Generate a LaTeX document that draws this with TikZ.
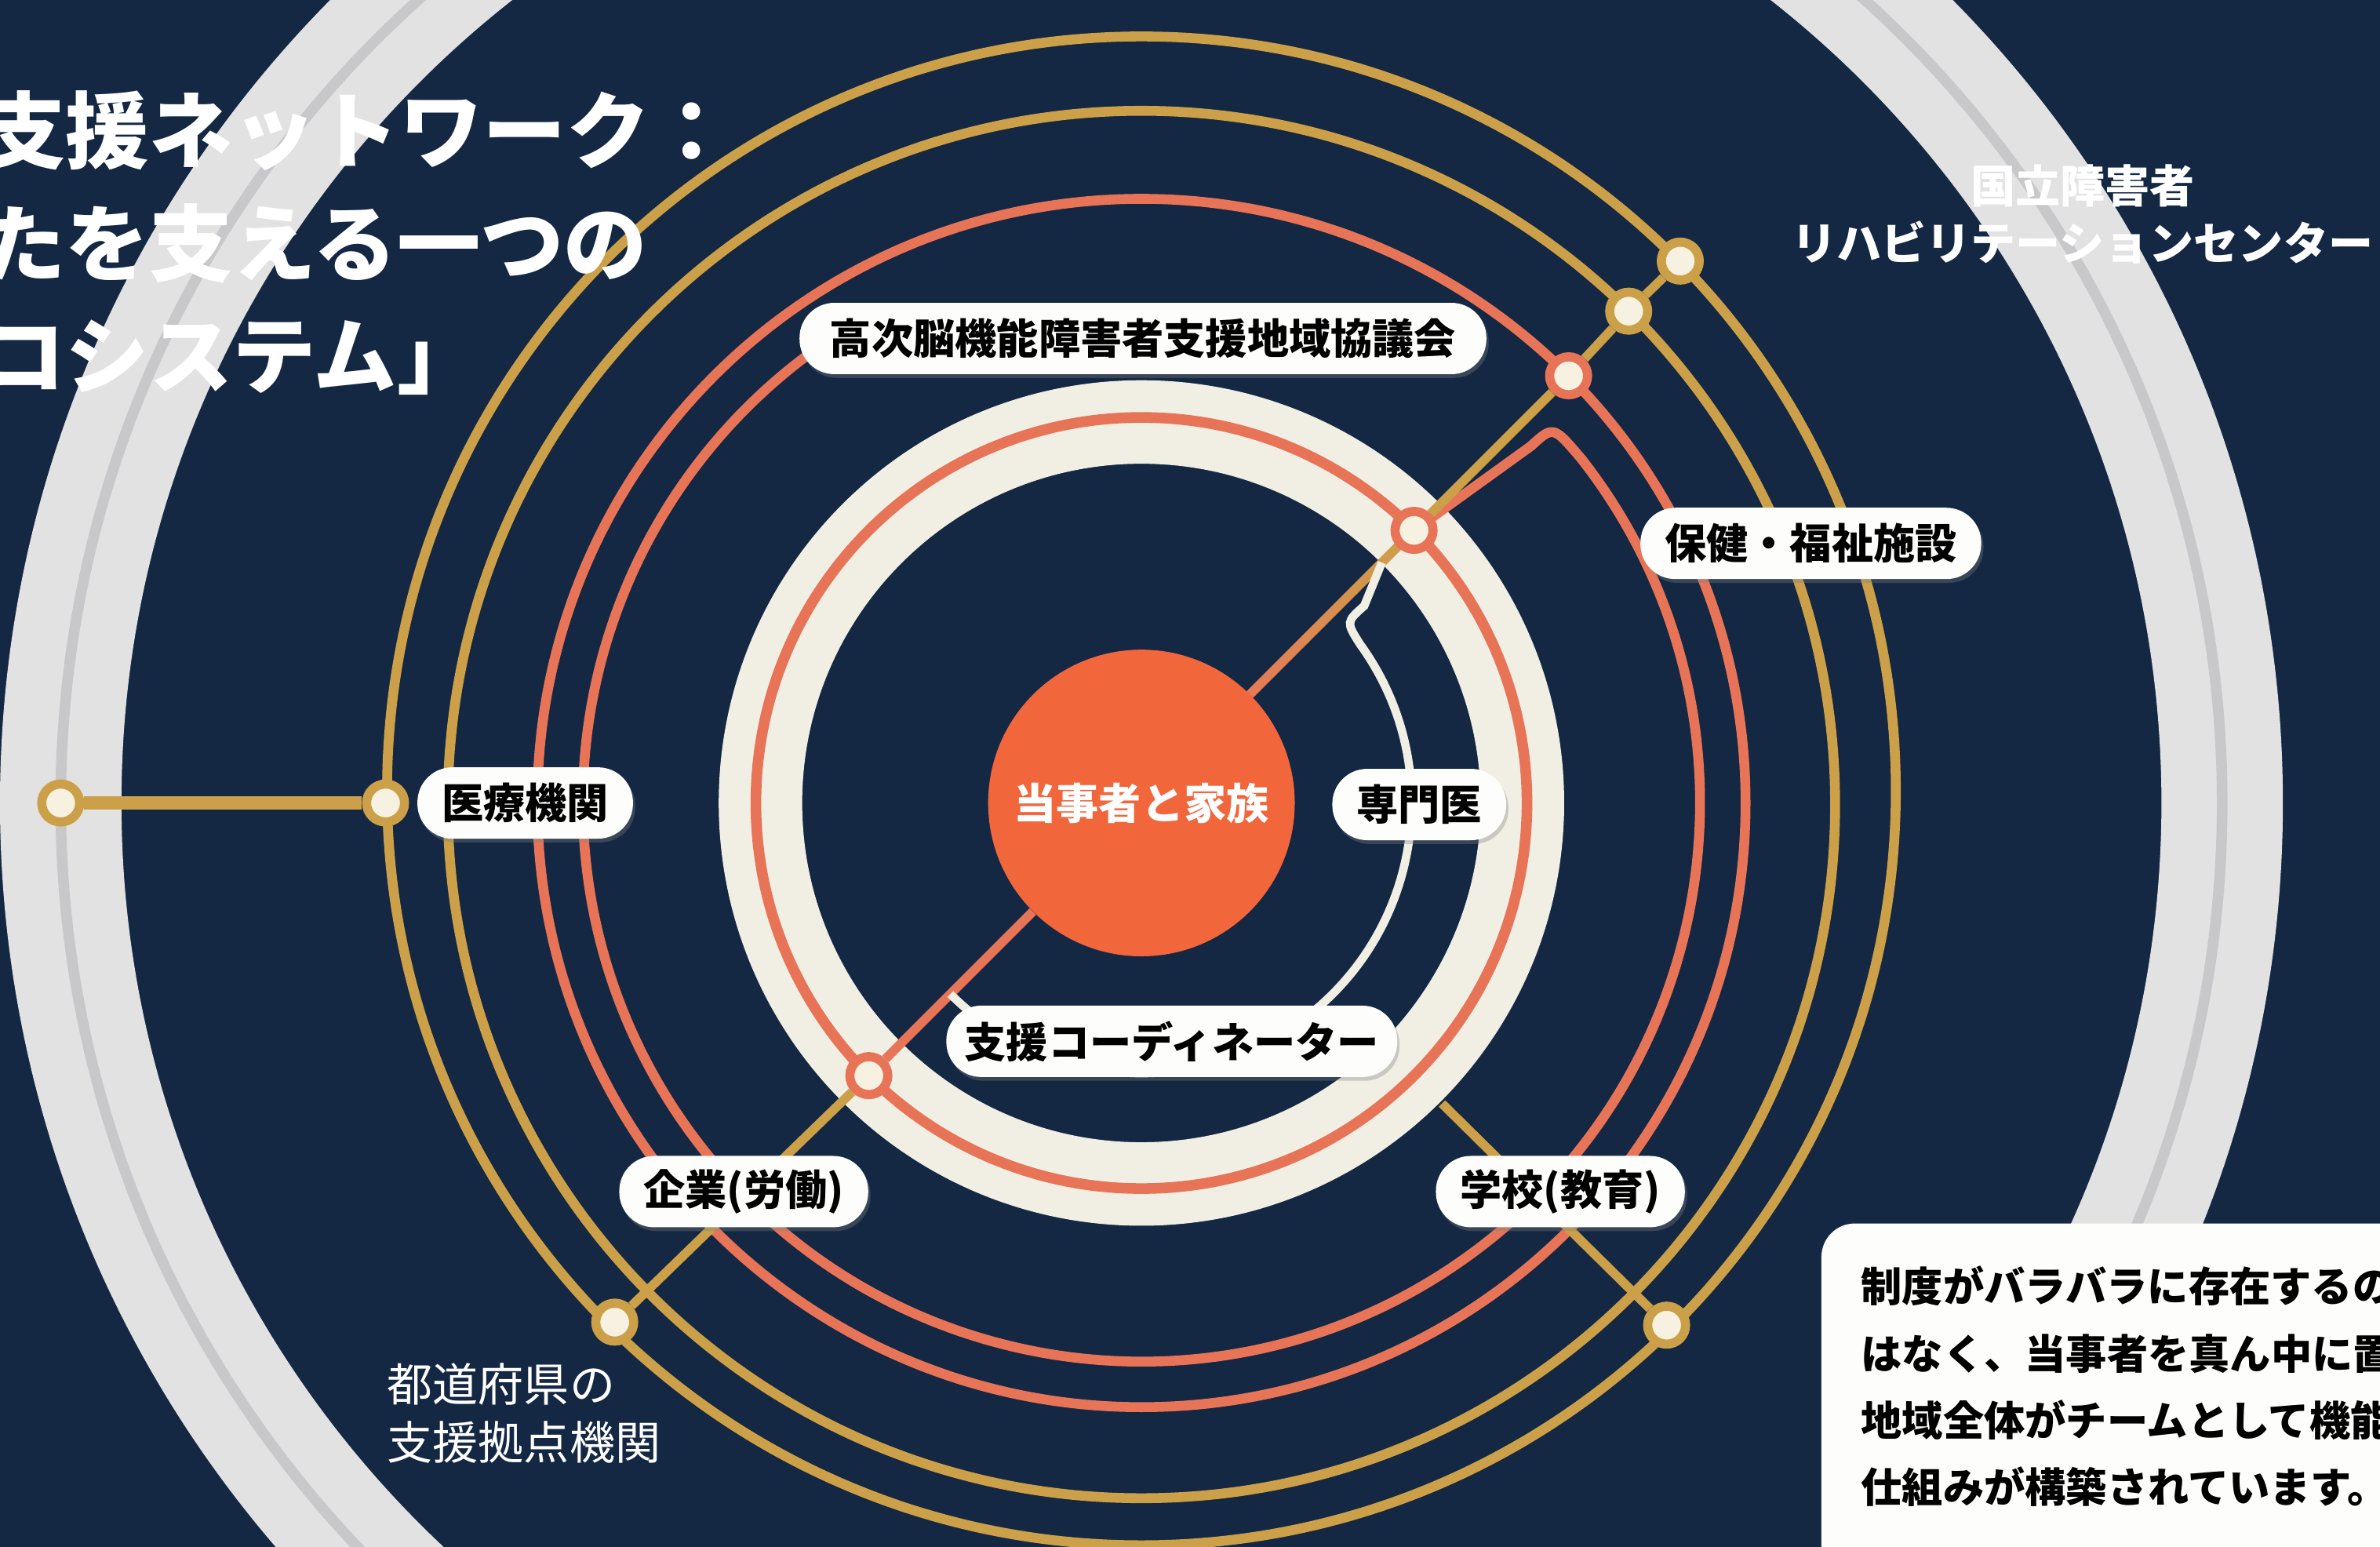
\documentclass[tikz,border=0pt]{standalone}
\usepackage{fontspec}
\newfontfamily\jp{Noto Sans CJK JP}
\usetikzlibrary{calc,shadows}
\definecolor{navy}{RGB}{20,40,68}
\definecolor{goldc}{RGB}{203,160,72}
\definecolor{salmon}{RGB}{232,116,88}
\definecolor{diskc}{RGB}{242,102,60}
\definecolor{creamc}{RGB}{241,239,228}
\definecolor{stnfill}{RGB}{246,241,224}
\definecolor{bandc}{RGB}{226,226,226}
\definecolor{bandmid}{RGB}{200,200,202}
\definecolor{pillc}{RGB}{253,253,251}
\pgfdeclarelayer{back}
\pgfdeclarelayer{mid}
\pgfsetlayers{back,mid,main}
\tikzset{
 goldring/.style={draw=goldc, line width=6.5},
 orring/.style={draw=salmon, line width=6.5},
 stnG/.style={circle, draw=goldc, fill=stnfill, line width=6, minimum size=25, inner sep=0},
 stnO/.style={circle, draw=salmon, fill=stnfill, line width=6, minimum size=25, inner sep=0},
 pill/.style={fill=pillc, rounded corners=23, minimum height=47, inner xsep=16, inner ysep=0, text=black,
   font=\jp\bfseries\fontsize{27.5}{30}\selectfont,
   drop shadow={shadow xshift=1.5pt, shadow yshift=-2.5pt, opacity=0.35}},
 whitetxt/.style={text=white, inner sep=0}
}
\begin{document}
\begin{tikzpicture}[x=1pt,y=-1pt]
\useasboundingbox (0,0) rectangle (1568,1019);
\coordinate (C) at (752,529);
\coordinate (CB) at (752,530);
\coordinate (CC) at (752,521);
% centre and stations
\node[circle, fill=diskc, minimum size=202, inner sep=0, text=white,
      font=\jp\bfseries\fontsize{28}{30}\selectfont] (core) at (C) {当事者と家族};
\node[stnG] (g0) at (40,529) {};
\node[stnG] (g1) at (254,529) {};
\node[stnO] (n1) at ($(C)+(-45:254)$) {};
\node[stnO] (n2) at ($(C)+(-45:398)$) {};
\node[stnG] (g2) at (1073,205) {};
\node[stnG] (g3) at (1107,172) {};
\node[stnO] (n3) at ($(C)+(135:254)$) {};
\node[stnG] (g4) at (405,871) {};
\node[stnG] (g5) at (1098,873) {};
\coordinate (s5) at ($(C)+(45:280)$);
% labels
\node[pill, inner xsep=20] (council) at (753,223) {高次脳機能障害者支援地域協議会};
\node[pill] (iryo) at (346,529) {医療機関};
\node[pill] (hoken) at (1193,358) {保健・福祉施設};
\node[pill] (senmon) at (935,530) {専門医};
\node[pill, inner xsep=12] (coord) at (772,686) {支援コーディネーター};
\node[pill] (kigyo) at (490,785) {企業(労働)};
\node[pill] (gakko) at (1028,785) {学校(教育)};
% free texts
\node[whitetxt, anchor=west, align=left, font=\jp\bfseries\fontsize{55}{74}\selectfont] (title) at (-12,160)
  {支援ネットワーク：\\たを支える一つの\\コシステム」};
\node[whitetxt, align=center, font=\jp\bfseries\fontsize{29.5}{38}\selectfont] (nrc) at (1372,141)
  {国立障害者\\リハビリテーションセンター};
\node[whitetxt, anchor=west, align=left, font=\jp\fontsize{30}{38}\selectfont] (pref) at (255,931)
  {都道府県の\\支援拠点機関};
\fill[pillc, rounded corners=22] (1200,806) rectangle (1640,1080);
\node[anchor=north west, align=left, inner sep=0, text=black,
      font=\jp\bfseries\fontsize{27}{44}\selectfont] (desc) at (1226,834)
  {制度がバラバラに存在するの\\はなく、当事者を真ん中に置\\地域全体がチームとして機能\\仕組みが構築されています。};

\begin{pgfonlayer}{back}
\fill[navy] (0,0) rectangle (1568,1019);
\draw[bandc, line width=80] (C) circle[radius=712];
\draw[bandmid, line width=7] (C) circle[radius=712];
\draw[goldring] (CC) circle[radius=497];
\draw[goldring] (CB) circle[radius=457];
\draw[orring] (C) circle[radius=398];
\draw[goldc, line width=9] (g0) -- (g1);
\end{pgfonlayer}

\begin{pgfonlayer}{mid}
\draw[creamc, line width=55] (C) circle[radius=251];
\draw[salmon, line width=7] (C) circle[radius=254];
% inner orange line with its bend
\draw[orring, line join=round] (n1.center) -- ($(C)+(-42.5:348)$)
   .. controls ($(C)+(-42.5:368)$) .. ($(C)+(-38:368)$)
   arc[start angle=-38, end angle=235, radius=368];
% diagonals
\foreach \i in {0,...,11}{
  \pgfmathsetmacro\ta{0.3+\i*0.06}
  \pgfmathsetmacro\tb{0.3+(\i+1)*0.06}
  \pgfmathtruncatemacro\pc{100-\i*9}
  \draw[draw=salmon!\pc!goldc, line width=6, line cap=round]
     ($(core.center)!\ta!(n1.center)$) -- ($(core.center)!\tb!(n1.center)$);
}
\draw[goldc, line width=6] (n1) -- (n2) -- (g2) -- (g3);
\draw[salmon, line width=6] (core) -- (n3);
\draw[goldc, line width=6] (n3) -- (g4);
\draw[goldc, line width=6] (s5) -- (g5);
% white link line
\draw[creamc, line width=5.5] ($(C)+(-45:224)$) -- ($(C)+(-41.5:196)$)
   .. controls ($(C)+(-41.5:180)$) .. ($(C)+(-36:178)$)
   arc[start angle=-36, end angle=135, radius=178];
\end{pgfonlayer}
\end{tikzpicture}
\end{document}
